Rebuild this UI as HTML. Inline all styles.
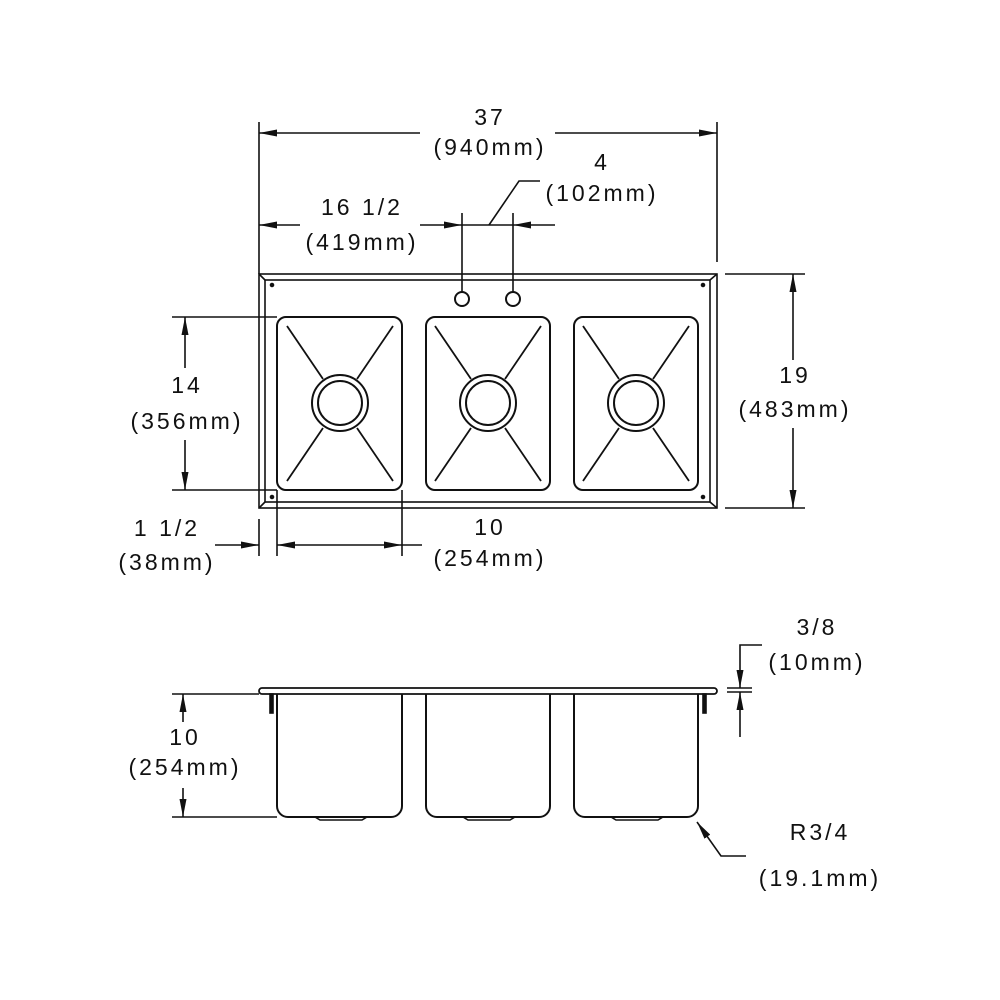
<!DOCTYPE html>
<html><head><meta charset="utf-8"><style>
html,body{margin:0;padding:0;background:#fff;}
svg{display:block;}
text{font-family:"Liberation Sans",sans-serif;font-size:23px;fill:#111;text-anchor:middle;letter-spacing:3px;}
</style></head><body>
<svg width="1000" height="1000" viewBox="0 0 1000 1000" xmlns="http://www.w3.org/2000/svg">
<defs>
<marker id="a" markerWidth="18" markerHeight="9" refX="18" refY="4.5" orient="auto-start-reverse" markerUnits="userSpaceOnUse">
<path d="M0,1 L18,4.5 L0,8 Z" fill="#111"/></marker>
</defs>
<g stroke="#111" stroke-width="1.6" fill="none">
<rect x="259" y="274" width="458" height="234"/>
<rect x="265" y="280" width="445" height="222"/>
<line x1="259" y1="274" x2="265" y2="280"/><line x1="717" y1="274" x2="710" y2="280"/>
<line x1="259" y1="508" x2="265" y2="502"/><line x1="717" y1="508" x2="710" y2="502"/>
<g stroke-width="2">
<rect x="277" y="317" width="125" height="173" rx="9"/>
<rect x="426" y="317" width="124" height="173" rx="9"/>
<rect x="574" y="317" width="124" height="173" rx="9"/>
</g>
<g stroke-width="2">
<circle cx="340" cy="403" r="28"/><circle cx="340" cy="403" r="22"/>
<circle cx="488" cy="403" r="28"/><circle cx="488" cy="403" r="22"/>
<circle cx="636" cy="403" r="28"/><circle cx="636" cy="403" r="22"/>
</g>
<g stroke-width="1.8">
<path d="M287,326 L323,379 M393,326 L357,379 M287,481 L323,428 M393,481 L357,428"/>
<path d="M435,326 L471,379 M541,326 L505,379 M435,481 L471,428 M541,481 L505,428"/>
<path d="M583,326 L619,379 M689,326 L653,379 M583,481 L619,428 M689,481 L653,428"/>
</g>
<circle cx="462" cy="299" r="7" stroke-width="2"/><circle cx="513" cy="299" r="7" stroke-width="2"/>
<circle cx="272" cy="285" r="1.5" fill="#111"/><circle cx="703" cy="285" r="1.5" fill="#111"/>
<circle cx="272" cy="497" r="1.5" fill="#111"/><circle cx="703" cy="497" r="1.5" fill="#111"/>
<line x1="259" y1="122" x2="259" y2="274"/><line x1="717" y1="122" x2="717" y2="262"/>
<line x1="420" y1="133" x2="259" y2="133" marker-end="url(#a)"/>
<line x1="555" y1="133" x2="717" y2="133" marker-end="url(#a)"/>
<line x1="462" y1="213" x2="462" y2="292"/><line x1="513" y1="213" x2="513" y2="292"/>
<line x1="300" y1="225" x2="259" y2="225" marker-end="url(#a)"/>
<line x1="420" y1="225" x2="462" y2="225" marker-end="url(#a)"/>
<line x1="462" y1="225" x2="513" y2="225"/>
<line x1="555" y1="225" x2="513" y2="225" marker-end="url(#a)"/>
<path d="M489,225 L519,181 L540,181"/>
<line x1="725" y1="274" x2="805" y2="274"/><line x1="725" y1="508" x2="805" y2="508"/>
<line x1="793" y1="360" x2="793" y2="274" marker-end="url(#a)"/>
<line x1="793" y1="428" x2="793" y2="508" marker-end="url(#a)"/>
<line x1="172" y1="317" x2="277" y2="317"/><line x1="172" y1="490" x2="277" y2="490"/>
<line x1="185" y1="368" x2="185" y2="317" marker-end="url(#a)"/>
<line x1="185" y1="440" x2="185" y2="490" marker-end="url(#a)"/>
<line x1="259" y1="519" x2="259" y2="556"/><line x1="277" y1="490" x2="277" y2="556"/><line x1="402" y1="490" x2="402" y2="556"/>
<line x1="215" y1="545" x2="259" y2="545" marker-end="url(#a)"/>
<line x1="277" y1="545" x2="402" y2="545" marker-start="url(#a)" marker-end="url(#a)"/>
<line x1="402" y1="545" x2="422" y2="545"/>
<rect x="259" y="688" width="458" height="6" rx="3" stroke-width="1.8"/>
<g stroke-width="2">
<path d="M277,694 V806 a11,11 0 0 0 11,11 H391 a11,11 0 0 0 11,-11 V694"/>
<path d="M426,694 V806 a11,11 0 0 0 11,11 H539 a11,11 0 0 0 11,-11 V694"/>
<path d="M574,694 V806 a11,11 0 0 0 11,11 H687 a11,11 0 0 0 11,-11 V694"/>
</g>
<path d="M315,817 L320,820 H362 L367,817 M463,817 L468,820 H510 L515,817 M611,817 L616,820 H658 L663,817"/>
<rect x="270" y="694" width="3" height="19" fill="#111"/><rect x="703" y="694" width="3" height="19" fill="#111"/>
<line x1="172" y1="694" x2="259" y2="694"/><line x1="172" y1="817" x2="277" y2="817"/>
<line x1="183" y1="722" x2="183" y2="694" marker-end="url(#a)"/>
<line x1="183" y1="788" x2="183" y2="817" marker-end="url(#a)"/>
<line x1="727" y1="688" x2="752" y2="688"/><line x1="727" y1="692" x2="752" y2="692"/>
<path d="M762,645 H740 V688" marker-end="url(#a)"/>
<line x1="740" y1="737" x2="740" y2="692" marker-end="url(#a)"/>
<path d="M746,856 H721 L697,822" marker-end="url(#a)"/>
</g>
<text x="490" y="125">37</text>
<text x="490" y="155">(940mm)</text>
<text x="362" y="215">16 1/2</text>
<text x="362" y="250">(419mm)</text>
<text x="602" y="170">4</text>
<text x="602" y="201">(102mm)</text>
<text x="795" y="383">19</text>
<text x="795" y="417">(483mm)</text>
<text x="187" y="393">14</text>
<text x="187" y="429">(356mm)</text>
<text x="490" y="535">10</text>
<text x="490" y="566">(254mm)</text>
<text x="167" y="536">1 1/2</text>
<text x="167" y="570">(38mm)</text>
<text x="185" y="745">10</text>
<text x="185" y="775">(254mm)</text>
<text x="817" y="635">3/8</text>
<text x="817" y="670">(10mm)</text>
<text x="820" y="840">R3/4</text>
<text x="820" y="886">(19.1mm)</text>
</svg>
</body></html>
